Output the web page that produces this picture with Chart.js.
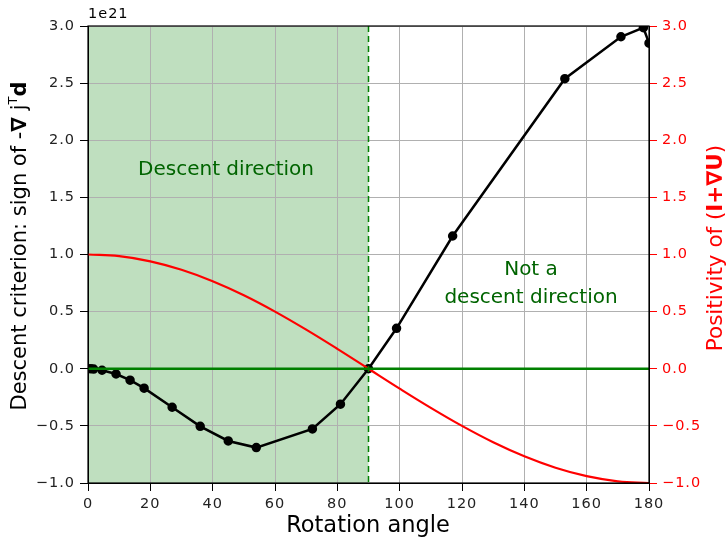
<!DOCTYPE html>
<html>
<head>
<meta charset="utf-8">
<script src="https://cdn.jsdelivr.net/npm/chart.js@4"></script>
<style>
  body { margin: 0; background: #ffffff; }
  canvas { display: block; }
</style>
</head>
<body>
<canvas id="grafico" width="728" height="543"></canvas>
<script>
// DADOS DO GRÁFICO
const angulos = [0, 0.9, 1.8, 4.5, 9, 13.5, 18, 27, 36, 45, 54, 72, 81, 90, 99, 117, 153, 171, 178.2, 180];
const criterio = [0, 0, -0.003, -0.013, -0.046, -0.1, -0.17, -0.337, -0.504, -0.632, -0.69, -0.527, -0.31, 0, 0.354, 1.162, 2.539, 2.906, 2.985, 2.85];

const angulosPos = [0, 10, 20, 30, 40, 50, 60, 70, 80, 90, 100, 110, 120, 130, 140, 150, 160, 170, 180];
const positividade = [1, 0.985, 0.94, 0.866, 0.766, 0.643, 0.5, 0.342, 0.174, 0, -0.174, -0.342, -0.5, -0.643, -0.766, -0.866, -0.94, -0.985, -1];

const limiteDescida = [0, 90];
const ticksX = [0, 20, 40, 60, 80, 100, 120, 140, 160, 180];
const ticksY = [-1, -0.5, 0, 0.5, 1, 1.5, 2, 2.5, 3];

const FONTE = "'DejaVu Sans', sans-serif";

// Junta pares x/y
function pares(xs, ys) {
    return xs.map((x, i) => ({ x: x, y: ys[i] }));
}

// Formata tick com sinal de menos
function formatarTick(v) {
    return v < 0 ? "\u2212" + Math.abs(v).toFixed(1) : v.toFixed(1);
}

// DESENHA TEXTO COM ESTILOS MISTOS
function textoMisto(ctx, partes, cx, cy, rot, tamanho, cor) {
    ctx.save();
    ctx.translate(cx, cy);
    ctx.rotate(rot);
    ctx.fillStyle = cor;
    ctx.textBaseline = "middle";
    ctx.textAlign = "left";

    const fonte = (p) => {
        const t = p.sup ? Math.round(tamanho * 0.6) : tamanho;
        return (p.bold ? "bold " : "") + t + "px " + FONTE;
    };

    let total = 0;
    partes.forEach(p => {
        ctx.font = fonte(p);
        total += ctx.measureText(p.t).width;
    });

    let x = -total / 2;
    partes.forEach(p => {
        ctx.font = fonte(p);
        ctx.fillText(p.t, x, p.sup ? -tamanho * 0.35 : 0);
        x += ctx.measureText(p.t).width;
    });
    ctx.restore();
}

// PLUGIN: área verde, moldura e textos
const extras = {
    id: "extras",
    beforeDraw(chart) {
        const { ctx, chartArea, scales } = chart;
        const x0 = scales.x.getPixelForValue(limiteDescida[0]);
        const x1 = scales.x.getPixelForValue(limiteDescida[1]);
        ctx.save();
        ctx.fillStyle = "rgb(191,223,191)";
        ctx.fillRect(x0, chartArea.top, x1 - x0, chartArea.bottom - chartArea.top);
        ctx.restore();

        // Espaçamento dos ticks
        ctx.letterSpacing = "1px";
    },
    beforeDatasetsDraw(chart) {
        chart.ctx.letterSpacing = "0px";
    },
    afterDatasetsDraw(chart) {
        const { ctx, chartArea, scales } = chart;
        const xv = scales.x.getPixelForValue(limiteDescida[1]);

        // Linha tracejada em 90
        ctx.save();
        ctx.strokeStyle = "#008000";
        ctx.lineWidth = 1.5;
        ctx.setLineDash([6, 4]);
        ctx.beginPath();
        ctx.moveTo(xv, chartArea.top);
        ctx.lineTo(xv, chartArea.bottom);
        ctx.stroke();
        ctx.restore();
    },
    afterDraw(chart) {
        const { ctx, chartArea } = chart;

        // Moldura
        ctx.save();
        ctx.strokeStyle = "#000000";
        ctx.lineWidth = 1.2;
        ctx.strokeRect(chartArea.left, chartArea.top,
            chartArea.right - chartArea.left, chartArea.bottom - chartArea.top);
        ctx.restore();

        // Textos
        ctx.save();
        ctx.fillStyle = "#006400";
        ctx.font = "20px " + FONTE;
        ctx.textAlign = "center";
        ctx.textBaseline = "middle";
        ctx.fillText("Descent direction", 226, 170);
        ctx.fillText("Not a", 531, 270);
        ctx.fillText("descent direction", 531, 298);

        ctx.fillStyle = "#000000";
        ctx.font = "14.5px " + FONTE;
        ctx.textAlign = "left";
        ctx.letterSpacing = "1px";
        ctx.fillText("1e21", 88, 14);
        ctx.letterSpacing = "0px";

        ctx.font = "22.5px " + FONTE;
        ctx.textAlign = "center";
        ctx.fillText("Rotation angle", 368, 526);
        ctx.restore();

        // Título eixo esquerdo
        textoMisto(ctx, [
            { t: "Descent criterion: sign of -" },
            { t: "\u2207", bold: true },
            { t: " j" },
            { t: "T", sup: true },
            { t: "d", bold: true }
        ], 21, 246, -Math.PI / 2, 21, "#000000");

        // Título eixo direito
        textoMisto(ctx, [
            { t: "Positivity of (" },
            { t: "I+\u2207U", bold: true },
            { t: ")" }
        ], 716, 248, -Math.PI / 2, 21.5, "#ff0000");
    }
};

// CRIA GRÁFICO
new Chart(document.getElementById("grafico"), {
    type: "scatter",
    data: {
        datasets: [
            {
                label: "zero",
                data: pares([0, 180], [0, 0]),
                showLine: true,
                borderColor: "#008000",
                borderWidth: 2.5,
                pointRadius: 0,
                yAxisID: "y"
            },
            {
                label: "positividade",
                data: pares(angulosPos, positividade),
                showLine: true,
                borderColor: "#ff0000",
                borderWidth: 2.2,
                pointRadius: 0,
                tension: 0.4,
                yAxisID: "y2"
            },
            {
                label: "criterio",
                data: pares(angulos, criterio),
                showLine: true,
                borderColor: "#000000",
                backgroundColor: "#000000",
                borderWidth: 2.5,
                pointRadius: 3.5,
                yAxisID: "y"
            }
        ]
    },
    options: {
        responsive: false,
        animation: false,
        layout: { padding: { top: 26, left: 0, right: 0, bottom: 0 } },
        plugins: {
            legend: { display: false },
            tooltip: { enabled: false }
        },
        scales: {
            x: {
                type: "linear",
                min: 0,
                max: 180,
                afterFit: (s) => { s.height = 60; },
                afterBuildTicks: (s) => { s.ticks = ticksX.map(v => ({ value: v })); },
                grid: { color: "#b0b0b0", tickColor: "#000000", tickLength: 8 },
                border: { color: "#000000" },
                ticks: {
                    color: "#222222",
                    padding: 5,
                    maxRotation: 0,
                    font: { family: FONTE, size: 14.5 }
                }
            },
            y: {
                position: "left",
                min: -1,
                max: 3,
                afterFit: (s) => { s.width = 88; },
                afterBuildTicks: (s) => { s.ticks = ticksY.map(v => ({ value: v })); },
                grid: { color: "#b0b0b0", tickColor: "#000000", tickLength: 8 },
                border: { color: "#000000" },
                ticks: {
                    color: "#222222",
                    padding: 5,
                    font: { family: FONTE, size: 14.5 },
                    callback: (v) => formatarTick(v)
                }
            },
            y2: {
                position: "right",
                min: -1,
                max: 3,
                afterFit: (s) => { s.width = 79; },
                afterBuildTicks: (s) => { s.ticks = ticksY.map(v => ({ value: v })); },
                grid: { drawOnChartArea: false, tickColor: "#ff0000", tickLength: 8 },
                border: { color: "#000000" },
                ticks: {
                    color: "#ff0000",
                    padding: 5,
                    font: { family: FONTE, size: 14.5 },
                    callback: (v) => formatarTick(v)
                }
            }
        }
    },
    plugins: [extras]
});
</script>
</body>
</html>
